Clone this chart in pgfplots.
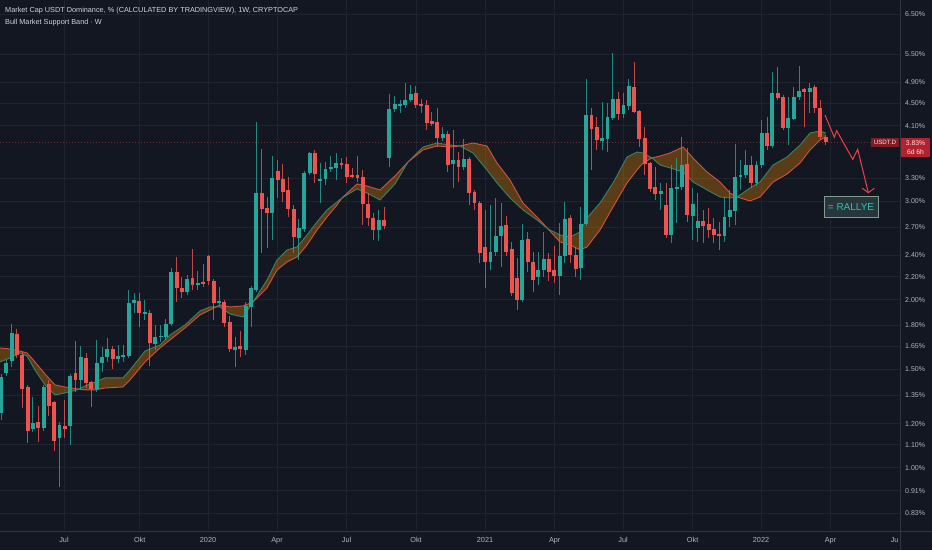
\documentclass[border=0pt]{standalone}
\usepackage{fontspec}
\setmainfont{Liberation Sans}
\usepackage{xcolor}
\usepackage{pgfplots}
\pgfplotsset{compat=1.18}
\usepackage{pgfplotstable}
\usepgfplotslibrary{fillbetween}

\definecolor{bg}{RGB}{19,23,34}
\definecolor{gridc}{RGB}{32,36,48}
\definecolor{sepc}{RGB}{50,54,66}
\definecolor{txt}{RGB}{178,181,190}
\definecolor{ttl}{RGB}{209,212,220}
\definecolor{upc}{RGB}{38,166,154}
\definecolor{dnc}{RGB}{239,83,80}
\definecolor{emac}{RGB}{56,140,112}
\definecolor{smac}{RGB}{226,84,70}
\definecolor{bandc}{RGB}{255,152,0}
\definecolor{arrowc}{RGB}{242,64,69}
\definecolor{lblA}{RGB}{128,28,36}
\definecolor{lblB}{RGB}{178,34,46}
\definecolor{lbltxt}{RGB}{255,225,225}
\definecolor{rallyefill}{RGB}{38,54,58}
\definecolor{rallyedraw}{RGB}{130,155,145}
\definecolor{rallyetxt}{RGB}{46,196,176}

% weekly candles, index i = week number; o h l c in %
\pgfplotstableread{
i o h l c
1 1.254 1.473 1.218 1.455
2 1.479 1.560 1.461 1.541
3 1.554 1.810 1.516 1.744
7 1.174 1.340 1.160 1.203
9 1.179 1.408 1.164 1.396
12 1.131 1.208 0.924 1.193
14 1.189 1.473 1.099 1.461
16 1.437 1.653 1.379 1.580
19 1.385 1.695 1.368 1.541
20 1.541 1.646 1.485 1.580
21 1.580 1.709 1.548 1.633
23 1.567 1.660 1.541 1.586
24 1.580 1.660 1.548 1.593
25 1.586 2.083 1.573 1.974
26 1.974 2.057 1.894 1.999
28 1.886 1.999 1.840 1.902
30 1.667 1.803 1.626 1.716
31 1.716 1.803 1.681 1.723
32 1.716 1.848 1.695 1.810
33 1.810 2.281 1.795 2.243
36 2.066 2.216 2.040 2.179
38 2.126 2.252 2.083 2.144
42 1.974 2.109 1.950 1.990
45 1.626 1.716 1.516 1.646
47 1.626 1.982 1.593 1.950
48 1.942 2.117 1.788 2.100
49 2.083 4.164 2.066 3.107
52 2.861 3.619 2.560 3.305
57 2.581 2.791 2.357 2.690
58 2.679 3.402 2.645 3.374
59 3.374 3.679 3.347 3.664
61 3.265 3.516 2.981 3.292
62 3.292 3.531 3.211 3.430
63 3.430 3.619 3.388 3.459
64 3.445 3.664 3.278 3.516
72 2.667 2.897 2.549 2.780
74 3.590 4.674 3.459 4.393
75 4.393 4.635 4.339 4.485
76 4.448 4.559 4.321 4.485
77 4.466 4.890 4.412 4.559
78 4.559 4.850 4.522 4.674
84 3.898 4.079 3.850 3.963
86 3.502 4.029 3.172 3.560
88 3.459 3.882 3.416 3.575
93 2.338 2.957 2.262 2.436
94 2.436 3.044 2.396 2.602
95 2.602 2.981 2.290 2.712
99 1.999 2.734 1.982 2.560
102 2.197 2.436 2.126 2.262
103 2.262 2.645 2.197 2.367
106 2.207 2.746 2.040 2.396
107 2.396 2.994 2.328 2.791
110 2.281 2.933 2.170 2.734
111 2.734 4.972 2.712 4.286
114 3.850 4.522 3.710 3.898
115 3.882 4.503 3.679 4.251
116 4.233 5.534 4.198 4.578
118 4.304 4.693 4.233 4.466
119 4.448 4.972 4.375 4.830
125 3.094 3.238 2.897 3.133
127 2.613 3.487 2.528 3.172
128 3.159 3.590 2.746 3.185
129 3.185 3.914 3.146 3.487
131 2.826 3.172 2.560 2.969
132 2.690 3.107 2.539 2.768
137 2.602 3.056 2.539 2.814
138 2.814 3.146 2.701 2.897
139 2.885 3.803 2.723 3.319
140 3.319 3.560 3.146 3.347
141 3.347 3.710 3.305 3.487
143 3.238 3.545 3.198 3.487
144 3.487 4.198 3.445 3.979
146 3.772 5.117 3.741 4.693
149 4.062 4.616 3.787 4.233
150 4.216 4.811 4.198 4.616
151 4.616 5.246 4.559 4.732
153 4.712 4.890 4.321 4.791
}\upcandles

\pgfplotstableread{
i o h l c
4 1.737 1.773 1.573 1.593
5 1.593 1.613 1.280 1.385
6 1.396 1.408 1.108 1.164
8 1.208 1.291 1.113 1.179
10 1.413 1.437 1.239 1.291
11 1.312 1.318 1.072 1.117
13 1.189 1.323 1.131 1.174
15 1.479 1.688 1.368 1.437
17 1.573 1.606 1.390 1.419
18 1.425 1.431 1.286 1.385
22 1.633 1.653 1.504 1.567
27 1.990 2.057 1.788 1.894
29 1.894 1.918 1.522 1.674
34 2.243 2.386 1.982 2.100
35 2.100 2.197 2.015 2.066
37 2.188 2.466 2.083 2.126
39 2.152 2.318 2.109 2.135
40 2.396 2.406 2.126 2.161
41 2.161 2.179 1.840 1.974
43 1.982 1.999 1.788 1.818
44 1.825 1.871 1.613 1.633
46 1.653 1.759 1.580 1.633
50 3.107 3.725 2.426 2.909
51 2.921 3.056 2.477 2.861
53 3.402 3.560 3.044 3.278
54 3.292 3.502 2.994 3.120
55 3.146 3.319 2.814 2.909
56 2.909 2.957 2.426 2.592
60 3.664 3.710 3.238 3.360
65 3.516 3.590 3.430 3.487
66 3.502 3.604 3.238 3.319
67 3.347 3.445 3.305 3.319
68 3.347 3.619 3.251 3.305
69 3.319 3.416 2.723 2.969
70 2.969 3.107 2.712 2.803
71 2.803 2.861 2.560 2.667
73 2.780 2.933 2.679 2.712
79 4.693 4.830 4.412 4.466
80 4.485 4.578 4.321 4.448
81 4.466 4.559 4.029 4.147
82 4.181 4.339 4.096 4.130
83 4.164 4.412 3.756 3.898
85 3.963 4.012 3.388 3.487
87 3.560 3.679 3.251 3.459
89 3.575 3.604 2.957 3.107
90 3.120 3.146 2.897 2.981
91 2.981 3.006 2.328 2.426
92 2.487 2.897 2.100 2.338
96 2.723 2.826 2.396 2.436
97 2.466 2.539 2.032 2.057
98 2.188 2.377 1.918 1.999
100 2.570 2.645 2.243 2.338
101 2.338 2.436 2.066 2.170
104 2.367 2.426 2.161 2.243
105 2.262 2.497 2.144 2.207
108 2.803 2.838 2.328 2.406
109 2.406 2.487 2.197 2.271
112 4.286 4.412 3.416 4.046
113 4.079 4.251 3.710 3.866
117 4.578 4.712 4.198 4.304
120 4.811 5.333 4.321 4.339
121 4.357 4.375 3.756 3.882
122 3.898 4.079 3.347 3.502
123 3.516 3.531 3.120 3.159
124 3.185 3.459 3.019 3.094
126 2.957 3.238 2.581 2.613
130 3.502 3.741 2.757 2.838
133 2.768 2.897 2.528 2.712
134 2.734 2.921 2.581 2.667
135 2.679 2.803 2.528 2.613
136 2.624 2.757 2.456 2.602
142 3.487 3.619 3.172 3.238
145 3.979 4.251 3.710 3.772
147 4.693 5.224 4.559 4.597
148 4.616 4.654 4.029 4.062
152 4.771 4.791 4.079 4.712
154 4.811 4.850 4.321 4.412
155 4.412 4.559 3.866 3.914
156 3.914 3.947 3.787 3.830
}\downcandles

% Bull Market Support Band: 20W SMA and 21W EMA
\pgfplotstableread{
i sma ema
0.81 1.640 1.548
2.69 1.633 1.573
4.57 1.619 1.606
5.89 1.606 1.586
7.39 1.548 1.497
9.27 1.473 1.408
11.15 1.408 1.351
13.03 1.396 1.362
15.29 1.385 1.379
16.79 1.379 1.402
18.67 1.379 1.425
20.55 1.390 1.449
23.93 1.396 1.449
25.25 1.437 1.497
28.07 1.548 1.619
30.89 1.640 1.660
32.77 1.695 1.730
35.59 1.781 1.803
38.41 1.879 1.910
40.29 1.918 1.942
42.17 1.958 1.942
44.05 1.942 1.886
46.49 1.950 1.863
48.37 1.982 1.982
51.00 2.100 2.170
52.88 2.262 2.357
54.76 2.338 2.456
56.64 2.386 2.487
58.52 2.507 2.613
60.40 2.667 2.757
62.28 2.814 2.897
64.16 2.957 2.994
65.10 3.044 3.044
67.92 3.225 3.159
69.80 3.198 3.107
72.24 3.146 3.019
75.06 3.333 3.225
77.50 3.531 3.531
80.32 3.710 3.756
82.96 3.772 3.819
85.40 3.756 3.787
87.28 3.772 3.772
89.72 3.819 3.664
92.35 3.772 3.416
94.23 3.516 3.238
96.68 3.278 3.044
99.12 2.981 2.897
101.75 2.814 2.780
103.82 2.679 2.679
106.07 2.539 2.613
107.95 2.507 2.592
109.83 2.456 2.645
111.15 2.487 2.803
113.59 2.667 2.981
116.04 2.933 3.238
118.67 3.238 3.604
120.55 3.416 3.679
121.68 3.516 3.664
123.37 3.590 3.590
124.87 3.619 3.487
126.75 3.664 3.445
129.20 3.756 3.388
131.08 3.590 3.251
133.71 3.388 3.146
136.15 3.251 3.056
138.03 3.107 3.044
139.35 3.056 3.056
141.79 3.006 3.172
143.67 3.056 3.251
146.12 3.251 3.487
148.75 3.360 3.604
151.19 3.516 3.787
153.07 3.710 3.979
154.95 3.866 4.012
156.00 3.914 3.979
}\band

\begin{document}
\pagecolor{bg}%
\begin{tikzpicture}
\begin{axis}[
  at={(0pt,19pt)}, anchor=south west,
  scale only axis, width=900pt, height=531pt,
  xmin=0.812, xmax=169.98,
  ymode=log, ymin=0.7708, ymax=6.886,
  axis line style={draw=none},
  tick style={draw=none},
  major tick length=0pt, minor tick length=0pt,
  xtick={12.84,27.07,39.91,52.88,65.96,79.01,91.98,105.08,117.92,131.0,143.86,156.92,169.98},
  xticklabels={Jul,Okt,2020,Apr,Jul,Okt,2021,Apr,Jul,Okt,2022,Apr,\makebox[0pt][r]{Ju\hspace{1.5pt}}},
  ytick={0.83,0.91,1.00,1.10,1.20,1.35,1.50,1.65,1.80,2.00,2.20,2.40,2.70,3.00,3.30,4.10,4.50,4.90,5.50,6.50},
  yticklabels={0.83\%,0.91\%,1.00\%,1.10\%,1.20\%,1.35\%,1.50\%,1.65\%,1.80\%,2.00\%,2.20\%,2.40\%,2.70\%,3.00\%,3.30\%,4.10\%,4.50\%,4.90\%,5.50\%,6.50\%},
  yticklabel pos=right,
  xmajorgrids, ymajorgrids,
  grid style={draw=gridc, line width=0.8pt},
  xticklabel style={font=\fontsize{7.3}{8}\selectfont, text=txt, anchor=north, inner sep=0pt, yshift=-6pt},
  yticklabel style={font=\fontsize{7}{8}\selectfont, text=txt, anchor=west, inner sep=0pt, xshift=5pt},
]
% band
\addplot[name path=sma, draw=none, forget plot] table[x=i, y=sma] {\band};
\addplot[name path=ema, draw=none, forget plot] table[x=i, y=ema] {\band};
\addplot[fill=bandc, fill opacity=0.3, draw=none, forget plot] fill between[of=sma and ema];
\addplot[smac, line width=0.9pt, opacity=0.9, forget plot] table[x=i, y=sma] {\band};
\addplot[emac, line width=0.9pt, opacity=0.9, forget plot] table[x=i, y=ema] {\band};

% current price line
\addplot[draw=dnc!40!bg, dash pattern=on 1pt off 2pt, line width=0.7pt, forget plot] coordinates {(0.812,3.83) (169.98,3.83)};

% wicks
\addplot[draw=none, mark=none, forget plot,
  error bars/.cd, y dir=minus, y explicit, error mark=none,
  error bar style={draw=upc, line width=1pt, draw opacity=0.8}]
  table[x=i, y=h, y error minus expr={\thisrow{h}-\thisrow{l}}] {\upcandles};
\addplot[draw=none, mark=none, forget plot,
  error bars/.cd, y dir=minus, y explicit, error mark=none,
  error bar style={draw=dnc, line width=1pt, draw opacity=0.8}]
  table[x=i, y=h, y error minus expr={\thisrow{h}-\thisrow{l}}] {\downcandles};
% bodies
\addplot[draw=none, mark=none, forget plot,
  error bars/.cd, y dir=minus, y explicit, error mark=none,
  error bar style={draw=upc, line width=3.9pt}]
  table[x=i, y=c, y error minus expr={\thisrow{c}-\thisrow{o}}] {\upcandles};
\addplot[draw=none, mark=none, forget plot,
  error bars/.cd, y dir=minus, y explicit, error mark=none,
  error bar style={draw=dnc, line width=3.9pt}]
  table[x=i, y=o, y error minus expr={\thisrow{o}-\thisrow{c}}] {\downcandles};
\end{axis}

\begin{scope}[x=1pt,y=1pt]
% separators of the price and time scales
\draw[sepc, line width=0.8pt] (0,19) -- (932,19);
\draw[sepc, line width=0.8pt] (900,0) -- (900,550);

% titles
\node[anchor=west, text=ttl, font=\fontsize{7.3}{8}\selectfont, inner sep=0pt] at (5,539) {Market Cap USDT Dominance, \% (CALCULATED BY TRADINGVIEW), 1W, CRYPTOCAP};
\node[anchor=west, text=ttl, font=\fontsize{7.3}{8}\selectfont, inner sep=0pt] at (5,527) {Bull Market Support Band · W};

% price labels
\fill[lblA] (871,403) rectangle (899,412);
\node[text=lbltxt, font=\fontsize{6.2}{7}\selectfont, inner sep=0pt] at (885,407.5) {USDT.D};
\fill[lblB] (901,392.7) rectangle (930,412.3);
\node[text=lbltxt, font=\fontsize{6.8}{7}\selectfont, inner sep=0pt] at (915.5,407.2) {3.83\%};
\node[text=lbltxt, font=\fontsize{6.8}{7}\selectfont, inner sep=0pt] at (915.5,397.8) {6d 6h};

% drawn projection arrow
\draw[arrowc, line width=1pt, line join=miter] (825,435) -- (834.3,412.7) -- (836.7,419.3) -- (852.7,390.7) -- (857.7,400.7) -- (868.3,357.3);
\draw[arrowc, line width=1pt] (862.3,361.8) -- (868.3,357.3) -- (874.3,361.7);

% note box
\draw[rallyedraw, fill=rallyefill, line width=1pt] (824,333) rectangle (878,353);
\node[text=rallyetxt, font=\fontsize{10}{12}\selectfont, inner sep=0pt] at (851,343) {= RALLYE};

\pgfresetboundingbox
\useasboundingbox (0,0) rectangle (932,550);
\end{scope}
\end{tikzpicture}
\end{document}
